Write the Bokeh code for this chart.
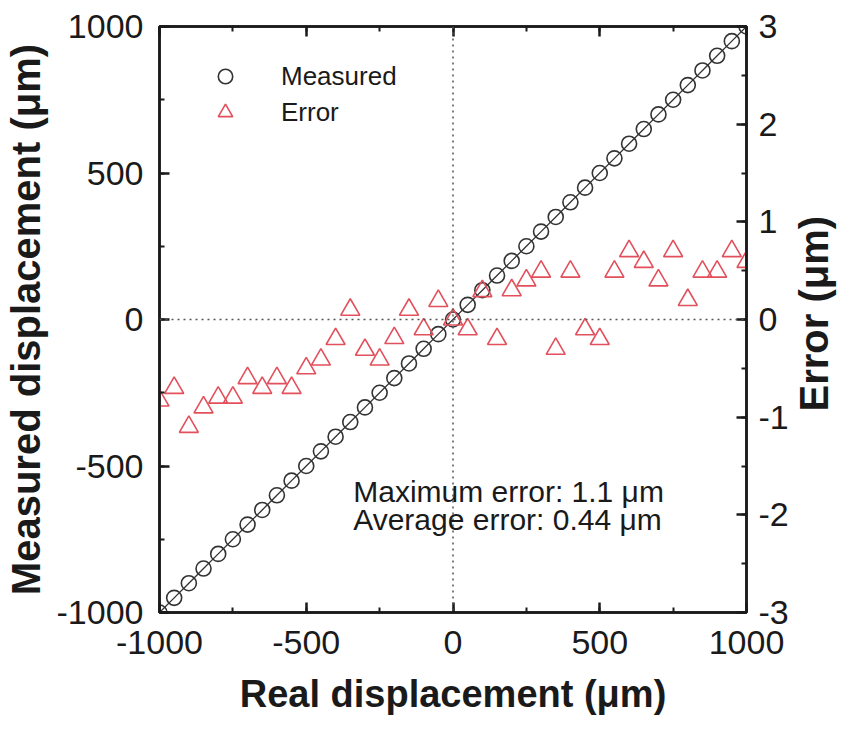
import math
from bokeh.plotting import figure
from bokeh.layouts import row
from bokeh.models import (LinearAxis, Range1d, SingleIntervalTicker, Span, Label,
                          Legend, LegendItem, PrintfTickFormatter)
from bokeh.core.properties import value
from bokeh.embed import file_html
from bokeh.resources import INLINE

# ---- data ----
real = [-1000, -950, -900, -850, -800, -750, -700, -650, -600, -550, -500,
        -450, -400, -350, -300, -250, -200, -150, -100, -50, 0,
        50, 100, 150, 200, 250, 300, 350, 400, 450, 500,
        550, 600, 650, 700, 750, 800, 850, 900, 950, 1000]
measured = [-1000, -950, -900, -850, -800, -750, -700, -650, -600, -550, -500,
            -450, -400, -350, -300, -250, -200, -150, -100, -50, 0,
            50, 100, 150, 200, 250, 300, 350, 400, 450, 500,
            550, 600, 650, 700, 750, 800, 850, 900, 950, 1000]
error = [-0.83, -0.70, -1.10, -0.90, -0.80, -0.80, -0.60, -0.70, -0.60, -0.70, -0.50,
         -0.41, -0.20, 0.10, -0.31, -0.41, -0.19, 0.10, -0.10, 0.19, 0.00,
         -0.10, 0.29, -0.20, 0.30, 0.40, 0.49, -0.30, 0.49, -0.10, -0.20,
         0.49, 0.70, 0.59, 0.40, 0.70, 0.20, 0.49, 0.49, 0.70, 0.59]
annot_lines = ["Maximum error: 1.1 \u03bcm", "Average error: 0.44 \u03bcm"]
right_title = "Error (\u03bcm)"

FONT = "Liberation Sans"
AX = "#1a1a1a"
RED = "#e2505c"

p = figure(frame_width=587, frame_height=586,
           x_range=Range1d(-1000, 1000), y_range=Range1d(-1000, 1000),
           output_backend="svg", toolbar_location=None,
           min_border_left=150, min_border_right=42,
           min_border_top=26, min_border_bottom=106,
           x_axis_location=None, y_axis_location=None)
p.extra_y_ranges = {"err": Range1d(-3, 3)}
p.xgrid.visible = False
p.ygrid.visible = False
p.outline_line_color = AX
p.outline_line_width = 2.5
p.background_fill_color = "white"
p.border_fill_color = "white"


def style(ax, label_size="34px", title_size="38px"):
    ax.axis_line_color = AX
    ax.axis_line_width = 2.5
    ax.major_tick_line_color = AX
    ax.major_tick_line_width = 2.5
    ax.minor_tick_line_color = AX
    ax.minor_tick_line_width = 2.0
    ax.major_tick_in = 10
    ax.major_tick_out = 0
    ax.minor_tick_in = 5
    ax.minor_tick_out = 0
    ax.formatter = PrintfTickFormatter(format="%d")
    ax.major_label_text_font = FONT
    ax.major_label_text_font_size = label_size
    ax.major_label_text_color = AX
    ax.axis_label_text_font = FONT
    ax.axis_label_text_font_size = title_size
    ax.axis_label_text_font_style = "bold"
    ax.axis_label_text_color = AX


xb = LinearAxis(ticker=SingleIntervalTicker(interval=500, num_minor_ticks=2),
                axis_label="Real displacement (\u03bcm)")
style(xb, title_size="38px")
xb.major_label_standoff = 18
xb.axis_label_standoff = 16
p.add_layout(xb, "below")

xt = LinearAxis(ticker=SingleIntervalTicker(interval=500, num_minor_ticks=2))
style(xt, "10px")
xt.major_label_text_color = None
xt.major_label_standoff = 0
p.add_layout(xt, "above")

yl = LinearAxis(ticker=SingleIntervalTicker(interval=500, num_minor_ticks=2),
                axis_label="Measured displacement (\u03bcm)")
style(yl, title_size="40px")
yl.major_label_standoff = 16
yl.axis_label_standoff = 6
p.add_layout(yl, "left")

yr = LinearAxis(y_range_name="err",
                ticker=SingleIntervalTicker(interval=1, num_minor_ticks=2))
style(yr)
yr.major_label_standoff = 12
p.add_layout(yr, "right")

for dim in ("height", "width"):
    p.add_layout(Span(location=0, dimension=dim, line_color="#555555",
                      line_width=1.5, line_dash="2 4"))

p.line(real, measured, line_color="#333333", line_width=1.3)
r_meas = p.scatter(real, measured, marker="circle", size=15, fill_color=None,
                   line_color="#333333", line_width=1.6)
r_err = p.scatter(real, error, y_range_name="err", marker="triangle", size=19,
                  fill_color=None, line_color=RED, line_width=1.6)

legend = Legend(items=[LegendItem(label="Measured", renderers=[r_meas]),
                       LegendItem(label="Error", renderers=[r_err])],
                location=(47, 482), glyph_width=38, glyph_height=36,
                spacing=0, padding=0, label_standoff=37,
                border_line_color=None, background_fill_alpha=0,
                label_text_font=FONT, label_text_font_size="26px",
                label_text_color=AX)
p.add_layout(legend, "center")

p.add_layout(Label(x=-340, y=-588, text=annot_lines[0], text_font=FONT,
                   text_font_size="30px", text_color=AX,
                   text_baseline="alphabetic"))
p.add_layout(Label(x=-340, y=-684, text=annot_lines[1], text_font=FONT,
                   text_font_size="30px", text_color=AX,
                   text_baseline="alphabetic"))

# narrow strip to the right holding the right-axis title (bottom-to-top)
p2 = figure(frame_width=50, frame_height=586,
            x_range=Range1d(0, 50), y_range=p.y_range,
            output_backend="svg", toolbar_location=None,
            min_border_left=0, min_border_right=0,
            min_border_top=26, min_border_bottom=106,
            x_axis_location=None, y_axis_location=None)
p2.xgrid.visible = False
p2.ygrid.visible = False
p2.outline_line_color = None
p2.text(x=[22], y=[20], text=[right_title], angle=math.pi / 2,
        text_align="center", text_baseline="middle",
        text_font=value(FONT), text_font_size="40px",
        text_font_style="bold", text_color=AX)

layout = row(p, p2, spacing=0)
open("out.html", "w").write(file_html(layout, INLINE))
